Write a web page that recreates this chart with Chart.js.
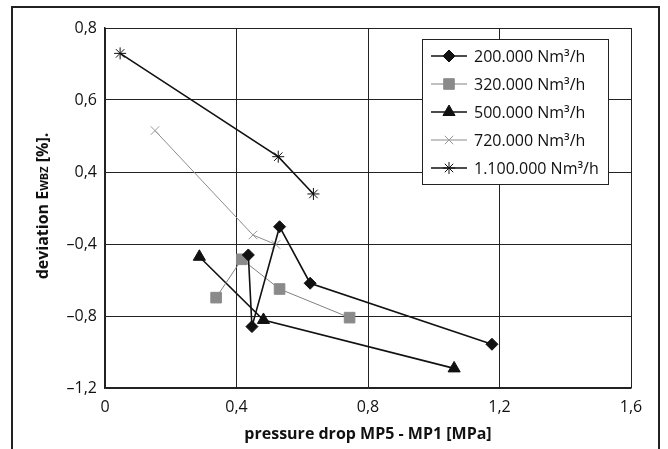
<!DOCTYPE html>
<html>
<head>
<meta charset="utf-8">
<script src="https://cdn.jsdelivr.net/npm/chart.js@4.4.0/dist/chart.umd.min.js"></script>
<style>
  html, body { margin: 0; padding: 0; background: #fff; overflow: hidden; }
  #wrap { position: relative; width: 668px; height: 449px; }
  #frame { position: absolute; left: 11px; top: 6px; width: 649px; height: 460px; border: 2px solid #222; box-sizing: border-box; }
  canvas { position: absolute; left: 0; top: 0; }
</style>
</head>
<body>
<div id="wrap">
  <div id="frame"></div>
  <canvas id="chart" width="668" height="449"></canvas>
</div>
<script>
// values (y in plot position units, labels below)
const seriesNames = ['200.000 Nm³/h', '320.000 Nm³/h', '500.000 Nm³/h', '720.000 Nm³/h', '1.100.000 Nm³/h'];

const x200 = [0.436, 0.447, 0.531, 0.624, 1.177];
const y200 = [-0.461, -0.859, -0.304, -0.618, -0.957];

const x320 = [0.338, 0.416, 0.531, 0.744];
const y320 = [-0.698, -0.485, -0.650, -0.809];

const x500 = [0.287, 0.482, 1.062];
const y500 = [-0.471, -0.822, -1.091];

const x720 = [0.152, 0.450, 0.520];
const y720 = [0.230, -0.350, -0.403];

const x1100 = [0.046, 0.527, 0.634];
const y1100 = [0.659, 0.085, -0.122];

const xTickLabels = ['0', '0,4', '0,8', '1,2', '1,6'];
const yTickLabels = ['–1,2', '–0,8', '–0,4', '0,4', '0,6', '0,8'];

const FONT = '"Open Sans", "Noto Sans", sans-serif';

function pts(xs, ys) {
    return xs.map((x, i) => ({ x: x, y: ys[i] }));
}

const styles = [
    { color: '#111', width: 1.6, point: 'rectRot', radius: 6, fill: '#111' },
    { color: '#808080', width: 1, point: 'rect', radius: 7.5, fill: '#8a8a8a' },
    { color: '#111', width: 1.6, point: 'triangle', radius: 7, fill: '#111' },
    { color: '#8c8c8c', width: 1, point: 'crossRot', radius: 6, fill: '#999' },
    { color: '#111', width: 1.6, point: 'star', radius: 6, fill: '#111' }
];
const allData = [pts(x200, y200), pts(x320, y320), pts(x500, y500), pts(x720, y720), pts(x1100, y1100)];

const datasets = allData.map((d, i) => ({
    label: seriesNames[i],
    data: d,
    borderColor: styles[i].color,
    borderWidth: styles[i].width,
    pointStyle: styles[i].point,
    pointRadius: styles[i].radius,
    pointBackgroundColor: styles[i].fill,
    pointBorderColor: styles[i].point === 'crossRot' ? '#999' : styles[i].fill,
    pointBorderWidth: 1,
    tension: 0,
    fill: false
}));

// legend box inside the plot, like the original
const boxLegend = {
    id: 'boxLegend',
    afterDraw(chart) {
        const ctx = chart.ctx;
        const left = 422, top = 39, right = 608, bottom = 184;
        ctx.save();
        ctx.fillStyle = '#fff';
        ctx.fillRect(left, top, right - left, bottom - top);
        ctx.strokeStyle = '#222';
        ctx.lineWidth = 1;
        ctx.strokeRect(left + 0.5, top + 0.5, right - left, bottom - top);
        ctx.font = '16px ' + FONT;
        ctx.textBaseline = 'middle';
        ctx.fillStyle = '#111';
        chart.data.datasets.forEach((ds, i) => {
            const y = 56 + i * 28;
            ctx.strokeStyle = ds.borderColor;
            ctx.lineWidth = ds.borderWidth;
            ctx.beginPath();
            ctx.moveTo(431, y);
            ctx.lineTo(467, y);
            ctx.stroke();
            ctx.fillStyle = ds.pointBackgroundColor;
            ctx.strokeStyle = ds.pointBorderColor;
            ctx.lineWidth = 1;
            Chart.helpers.drawPoint(ctx, { pointStyle: ds.pointStyle, radius: ds.pointRadius, rotation: 0, borderWidth: 1 }, 449, y);
            ctx.fillStyle = '#111';
            ctx.fillText(ds.label, 474, y + 1);
        });
        ctx.restore();
    }
};

// y title with small-caps subscript
const yTitle = {
    id: 'yTitle',
    afterDraw(chart) {
        const ctx = chart.ctx;
        const parts = [
            ['deviation E', 'bold 16px ' + FONT],
            ['WBZ', 'bold 11px ' + FONT],
            [' [%].', 'bold 16px ' + FONT]
        ];
        ctx.save();
        let total = 0;
        parts.forEach(p => { ctx.font = p[1]; total += ctx.measureText(p[0]).width; });
        ctx.translate(42, 206);
        ctx.rotate(-Math.PI / 2);
        ctx.fillStyle = '#111';
        ctx.textBaseline = 'alphabetic';
        let x = -total / 2;
        parts.forEach(p => {
            ctx.font = p[1];
            ctx.fillText(p[0], x, 6);
            x += ctx.measureText(p[0]).width;
        });
        ctx.restore();
    }
};

new Chart(document.getElementById('chart').getContext('2d'), {
    type: 'line',
    data: { datasets: datasets },
    plugins: [boxLegend, yTitle],
    options: {
        responsive: false,
        animation: false,
        layout: { padding: { left: 0, right: 37, top: 28, bottom: 0 } },
        plugins: {
            legend: { display: false },
            tooltip: { enabled: false }
        },
        scales: {
            x: {
                type: 'linear',
                min: 0,
                max: 1.6,
                ticks: {
                    stepSize: 0.4,
                    color: '#111',
                    padding: 10,
                    font: { family: FONT, size: 16 },
                    callback: (v, i) => xTickLabels[i]
                },
                grid: { color: '#222', lineWidth: 1, drawTicks: false },
                border: { color: '#222', width: 1.5 },
                title: {
                    display: true,
                    text: 'pressure drop MP5 - MP1 [MPa]',
                    color: '#111',
                    font: { family: FONT, size: 16, weight: 'bold' },
                    padding: { top: 2, bottom: 5 }
                },
                afterFit: (s) => { s.height = 61; }
            },
            y: {
                type: 'linear',
                min: -1.2,
                max: 0.8,
                ticks: {
                    stepSize: 0.4,
                    color: '#111',
                    padding: 8,
                    font: { family: FONT, size: 16 },
                    callback: (v, i) => yTickLabels[i]
                },
                grid: { color: '#222', lineWidth: 1, drawTicks: false },
                border: { color: '#222', width: 1.5 },
                afterFit: (s) => { s.width = 105; }
            }
        }
    }
});
</script>
</body>
</html>
